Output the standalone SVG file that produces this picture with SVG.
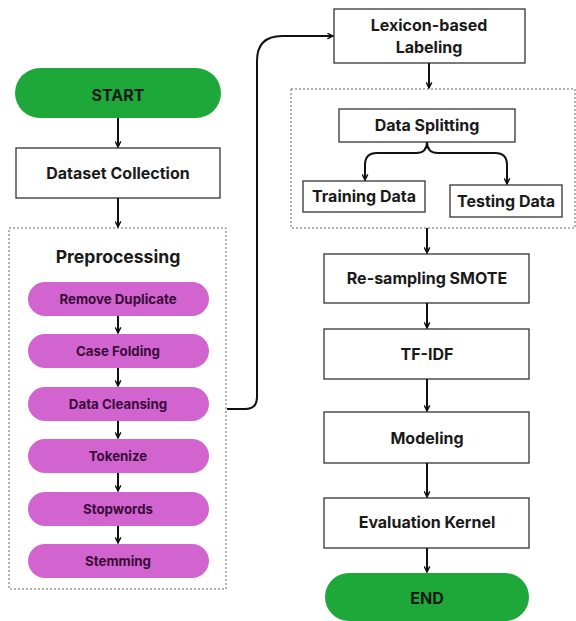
<svg xmlns="http://www.w3.org/2000/svg" width="576" height="621" viewBox="0 0 576 621">
<defs>
<marker id="ah" viewBox="0 0 10 10" refX="9" refY="5" markerWidth="7" markerHeight="7" markerUnits="userSpaceOnUse" orient="auto">
<path d="M1,1 L9,5 L1,9" fill="none" stroke="#111" stroke-width="2"/>
</marker>
<style>
text{font-family:Inter,"Liberation Sans",sans-serif;font-weight:700;text-anchor:middle;fill:#1a1a1a}
.box{fill:#fff;stroke:#333;stroke-width:1.3}
.green{fill:#1fa83a}
.pur{fill:#d264cf}
.pt{fill:#3a0c3a;font-size:13.3px}
.dash{fill:none;stroke:#666;stroke-width:1;stroke-dasharray:2 2}
.con{fill:none;stroke:#111;stroke-width:2;marker-end:url(#ah)}
.t15{font-size:16px}
</style>
</defs>
<rect width="576" height="621" fill="#fff"/>
<g id="preprocessing-group"><rect class="dash" x="9" y="228" width="217" height="361"/><text x="118" y="263" style="font-size:17.6px">Preprocessing</text></g>
<g id="splitting-group"><rect class="dash" x="291" y="89" width="284" height="139"/></g>
<g id="start"><rect class="green" x="15" y="68" width="206" height="50" rx="25"/><text x="118" y="101" class="t15">START</text></g>
<g id="dataset"><rect class="box" x="16" y="148" width="204" height="50"/><text x="118" y="179" class="t15">Dataset Collection</text></g>
<g id="remove"><rect class="pur" x="28" y="282" width="181" height="34" rx="17"/><text class="pt" x="118" y="303.5">Remove Duplicate</text></g>
<g id="casefold"><rect class="pur" x="28" y="334" width="181" height="34" rx="17"/><text class="pt" x="118" y="355.5">Case Folding</text></g>
<g id="cleansing"><rect class="pur" x="28" y="387" width="181" height="34" rx="17"/><text class="pt" x="118" y="408.5">Data Cleansing</text></g>
<g id="tokenize"><rect class="pur" x="28" y="439" width="181" height="34" rx="17"/><text class="pt" x="118" y="460.5">Tokenize</text></g>
<g id="stopwords"><rect class="pur" x="28" y="492" width="181" height="34" rx="17"/><text class="pt" x="118" y="513.5">Stopwords</text></g>
<g id="stemming"><rect class="pur" x="28" y="544" width="181" height="34" rx="17"/><text class="pt" x="118" y="565.5">Stemming</text></g>
<g id="lexicon"><rect class="box" x="334" y="9" width="191" height="54"/><text x="429" y="31" class="t15">Lexicon-based</text><text x="429" y="53" class="t15">Labeling</text></g>
<g id="splitting"><rect class="box" x="339" y="109" width="176" height="33"/><text x="427" y="131" class="t15">Data Splitting</text></g>
<g id="training"><rect class="box" x="303" y="181" width="122" height="31"/><text x="364" y="202" class="t15">Training Data</text></g>
<g id="testing"><rect class="box" x="450" y="185" width="112" height="32"/><text x="506" y="207" class="t15">Testing Data</text></g>
<g id="smote"><rect class="box" x="324" y="254" width="205" height="49"/><text x="427" y="284" class="t15">Re-sampling SMOTE</text></g>
<g id="tfidf"><rect class="box" x="324" y="329" width="205" height="50"/><text x="427" y="360" class="t15">TF-IDF</text></g>
<g id="modeling"><rect class="box" x="324" y="412" width="205" height="51"/><text x="427" y="444" class="t15">Modeling</text></g>
<g id="evaluation"><rect class="box" x="324" y="498" width="205" height="50"/><text x="427" y="528" class="t15">Evaluation Kernel</text></g>
<g id="end"><rect class="green" x="325" y="573" width="204" height="48" rx="24"/><text x="427" y="604" class="t15">END</text></g>
<g id="connectors">
<path class="con" d="M118,118 V147"/>
<path class="con" d="M118,198 V227"/>
<path class="con" d="M118,316 V333"/>
<path class="con" d="M118,368 V386"/>
<path class="con" d="M118,421 V438"/>
<path class="con" d="M118,473 V491"/>
<path class="con" d="M118,526 V543"/>
<path class="con" d="M227,409 H245 Q257,409 257,397 V61 Q257,36 282,36 H333"/>
<path class="con" d="M429,63 V88"/>
<path class="con" d="M427,142 Q427,153 416,153 H377 Q365,153 365,165 V180"/>
<path class="con" d="M427,142 Q427,153 438,153 H495 Q507,153 507,165 V184"/>
<path class="con" d="M427,228 V253"/>
<path class="con" d="M427,303 V328"/>
<path class="con" d="M427,379 V411"/>
<path class="con" d="M427,463 V497"/>
<path class="con" d="M427,548 V572"/>
</g>
</svg>
